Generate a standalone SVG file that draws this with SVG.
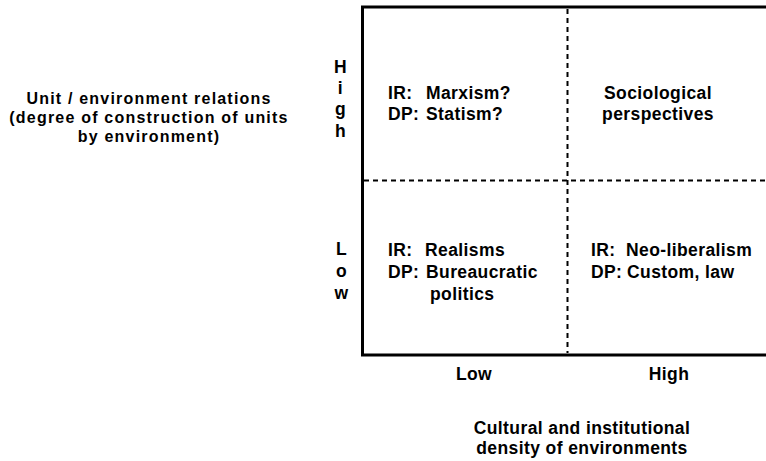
<svg xmlns="http://www.w3.org/2000/svg" width="766" height="461" viewBox="0 0 766 461">
<style>
text{font-family:"Liberation Sans",Arial,Helvetica,sans-serif;font-weight:bold;font-size:17.5px;fill:#000;letter-spacing:0.4px}
.m{text-anchor:middle}
.yt{font-size:16px;letter-spacing:1.2px}
.frame{fill:none;stroke:#000;stroke-width:3}
.dash{fill:none;stroke:#000;stroke-width:2;stroke-dasharray:5 4}
</style>
<rect width="766" height="461" fill="#fff"/>
<g id="connectors">
<path class="frame" d="M766 7 H362.5 V355 H766"/>
<line class="dash" x1="567.5" y1="9" x2="567.5" y2="353"/>
<line class="dash" x1="364" y1="180.5" x2="766" y2="180.5"/>
</g>
<g id="y-axis-title">
<text class="m yt" x="149" y="104">Unit / environment relations</text>
<text class="m yt" x="149" y="123">(degree of construction of units</text>
<text class="m yt" x="149" y="142">by environment)</text>
</g>
<g id="y-high">
<text class="m" x="340.5" y="73">H</text>
<text class="m" x="340.5" y="94">i</text>
<text class="m" x="340.5" y="115">g</text>
<text class="m" x="340.5" y="137">h</text>
</g>
<g id="y-low">
<text class="m" x="341.5" y="255">L</text>
<text class="m" x="341.5" y="277">o</text>
<text class="m" x="341.5" y="299">w</text>
</g>
<g id="q-high-low">
<text x="388" y="99">IR:</text><text x="426" y="99">Marxism?</text>
<text x="388" y="120">DP:</text><text x="426" y="120">Statism?</text>
</g>
<g id="q-high-high">
<text class="m" x="658" y="99">Sociological</text>
<text class="m" x="658" y="120">perspectives</text>
</g>
<g id="q-low-low">
<text x="388" y="256">IR:</text><text x="425" y="256">Realisms</text>
<text x="388" y="278">DP:</text><text x="426" y="278">Bureaucratic</text>
<text x="430" y="300">politics</text>
</g>
<g id="q-low-high">
<text x="591" y="256">IR:</text><text x="626" y="256">Neo-liberalism</text>
<text x="591" y="278">DP:</text><text x="627" y="278">Custom, law</text>
</g>
<g id="x-labels">
<text class="m" x="474" y="380">Low</text>
<text class="m" x="669" y="380">High</text>
</g>
<g id="x-axis-title">
<text class="m" x="582" y="434">Cultural and institutional</text>
<text class="m" x="582" y="454">density of environments</text>
</g>
</svg>
